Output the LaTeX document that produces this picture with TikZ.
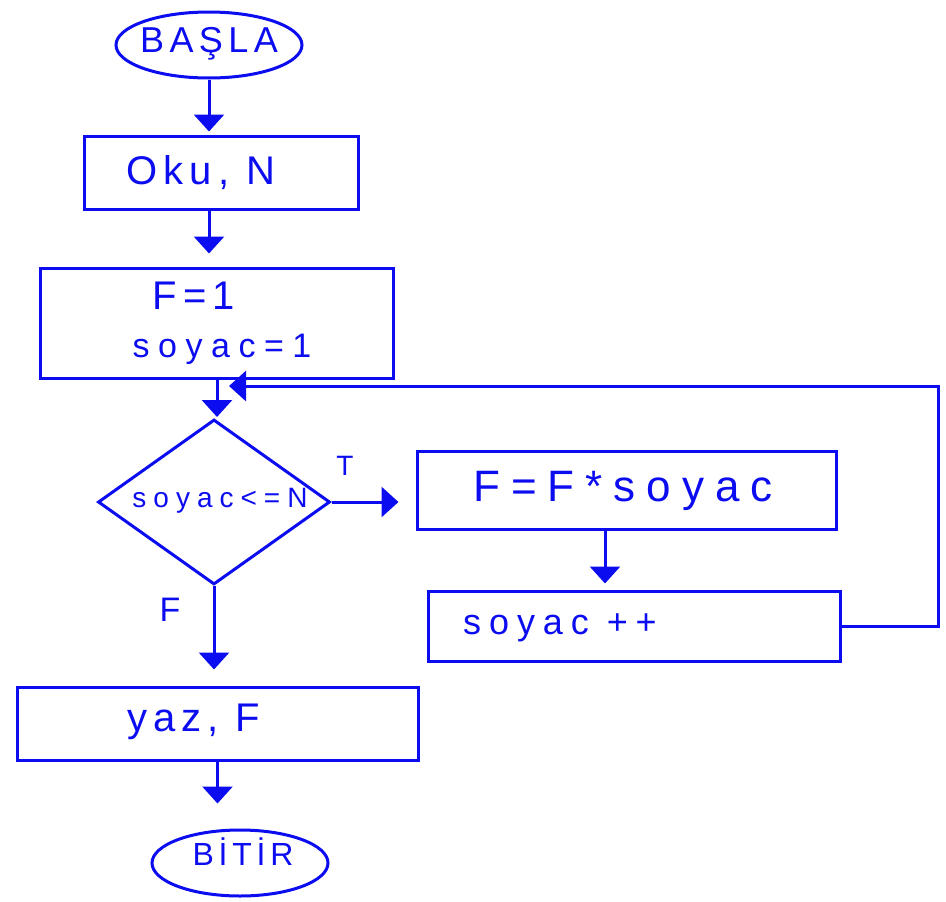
\documentclass[tikz,border=0pt]{standalone}
\usepackage{fontspec}
\setmainfont{Liberation Sans}
\newfontfamily\hand[LetterSpace=15]{Liberation Sans}
\usetikzlibrary{arrows.meta,shapes.geometric,calc}
\definecolor{ink}{RGB}{12,12,240}
\begin{document}
\begin{tikzpicture}[x=1pt,y=-1pt,
  line/.style={draw=ink,line width=3pt},
  flow/.style={line,-{Triangle[width=30pt,length=17pt]}},
  box/.style={line,rectangle,inner sep=0pt},
  term/.style={line,ellipse,inner sep=0pt},
  txt/.style={text=ink,inner sep=0pt},
  fs/.style={font=\hand\fontsize{#1}{#1}\selectfont},
  wide/.style 2 args={font=\hand\addfontfeature{LetterSpace=#2}\fontsize{#1}{#1}\selectfont}]
\useasboundingbox (0,0) rectangle (946,902);

% shapes
\node[term,minimum width=186pt,minimum height=66pt] (start) at (209,45) {};
\node[box,minimum width=274pt,minimum height=73pt] (oku) at (221,172.5) {};
\node[box,minimum width=353pt,minimum height=110pt] (init) at (216.5,323) {};
\node[line,diamond,inner sep=0pt,minimum width=232pt,minimum height=165pt] (cond) at (214,502) {};
\node[box,minimum width=419pt,minimum height=78pt] (body) at (626.5,490) {};
\node[box,minimum width=412pt,minimum height=70pt] (inc) at (634,626) {};
\node[box,minimum width=401pt,minimum height=73pt] (out) at (217.5,723.5) {};
\node[term,minimum width=176pt,minimum height=66pt] (stop) at (240,863) {};

% texts
\node[txt,fs=36pt] (tStart) at (209,44) {BAŞLA};
\node[txt,fs=40pt] (tOku) at (201,173) {Oku, N};
\node[txt,fs=40pt] (tF) at (194,296) {F=1};
\node[txt,wide={34pt}{25}] (tSoy) at (222,349) {soyac=1};
\node[txt,wide={28pt}{25}] (tCond) at (220,501) {soyac<=N};
\node[txt,wide={44pt}{25}] (tBody) at (623,491) {F=F*soyac};
\node[txt,wide={36pt}{22}] (tInc) at (560,628) {soyac ++};
\node[txt,fs=40pt] (tOut) at (194,722) {yaz, F};
\node[txt,fs=32pt] (tStop) at (243,852) {BİTİR};
\node[txt,fs=28pt] (lT) at (345,466) {T};
\node[txt,fs=34pt] (lF) at (170,610) {F};

% connectors
\draw[flow,shorten >=3pt] (start.south) -- (start.south |- oku.north);
\draw[flow,shorten >=13pt] ([xshift=-12pt]oku.south) -- ([xshift=-12pt]oku.south |- init.north);
\draw[flow,shorten >=1pt] ([xshift=3pt]cond.north |- init.south) -- ([xshift=3pt]cond.north);
\draw[flow,shorten >=17pt] (cond.east) -- (cond.east -| body.west);
\draw[flow,shorten >=6pt] ([xshift=-21.5pt]body.south) -- ([xshift=-21.5pt]body.south |- inc.north);
\draw[flow,shorten >=16pt] (cond.south) -- (cond.south |- out.north);
\draw[flow,shorten >=25pt] (out.south) -- (out.south |- stop.north);
\coordinate (loopR) at (938,386);
\coordinate (loopEnd) at (229,386);
\draw[flow] (inc.east) -| (loopR) -- (loopEnd);
\end{tikzpicture}
\end{document}
